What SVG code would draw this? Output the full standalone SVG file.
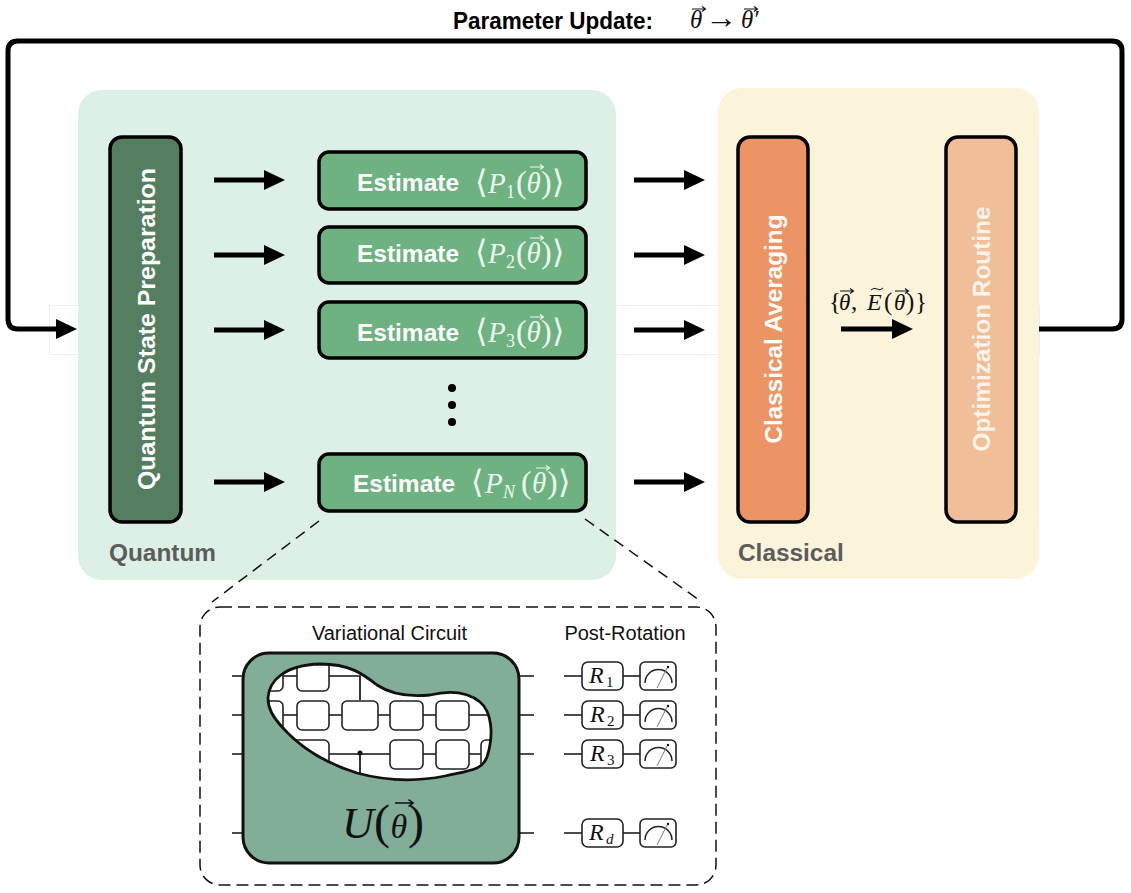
<svg xmlns="http://www.w3.org/2000/svg" width="1131" height="893" viewBox="0 0 1131 893">
<style>
.box{stroke:#000;stroke-width:3.500}
.lab{font-family:"Liberation Sans",Arial,sans-serif;font-weight:700;fill:#fff;font-size:24.500px}
.sec{font-family:"Liberation Sans",Arial,sans-serif;font-weight:700;fill:#5c5c5c;font-size:24.400px}
.cap{font-family:"Liberation Sans",Arial,sans-serif;fill:#111;font-size:20px;text-anchor:middle}
.m{font-family:"Liberation Serif","DejaVu Serif",serif;font-size:32px;fill:#eef8f0}
.mi{font-style:italic;font-size:29px}
.ms{font-size:18px}
.k{font-family:"Liberation Serif","DejaVu Serif",serif;fill:#111}
.w{stroke:#111;stroke-width:1.700;fill:none}
.g{fill:#fff;stroke:#222;stroke-width:1.600}
.a{stroke:#000;stroke-width:5;fill:none}
</style>
<defs>
<marker id="ah" markerUnits="userSpaceOnUse" markerWidth="22" markerHeight="22" refX="3" refY="10" orient="auto"><path d="M0 0L21 10L0 20Z" fill="#000"/></marker>
<g id="vec"><path d="M0 0H13M10 -2.500L13.500 0L10 2.500" fill="none" stroke="currentColor" stroke-width="1.100"/></g>
<g id="meter"><rect class="g" x="0" y="0" width="36" height="28" rx="5"/><path d="M5 21A13.500 13.500 0 0 1 32 21" fill="none" stroke="#222" stroke-width="1.500"/><path d="M17 26L27 6" stroke="#777" stroke-width="1"/><circle cx="28" cy="5" r="1.200" fill="#111"/></g>
<clipPath id="blobc"><path d="M268 698C269 681 284 665 320 664C350 664 363 674 377 685C392 695 410 697 430 695C447 691 465 690 480 702C492 712 494 735 487 757C482 770 472 770 445 776C420 781 390 782 357 773C325 763 300 747 283 728C272 716 268 708 268 698Z"/></clipPath>
</defs>
<rect x="49.500" y="305.500" width="990" height="49" fill="#fff" stroke="#eee" stroke-width="1"/>
<g id="quantum-panel"><rect x="78" y="90" width="538" height="490" rx="24" fill="#ddf0e5"/><text class="sec" x="109" y="561">Quantum</text></g>
<g id="classical-panel"><rect x="718" y="88" width="321" height="491" rx="24" fill="#fbf3da"/><text class="sec" x="738" y="561">Classical</text></g>

<g id="quantum-state-preparation"><rect class="box" x="110" y="137" width="71" height="385" rx="12" fill="#557d60"/><text class="lab" transform="translate(155 329) rotate(-90)" text-anchor="middle" textLength="322" lengthAdjust="spacingAndGlyphs">Quantum State Preparation</text></g>

<g id="estimate-1" color="#eef8f0"><rect class="box" x="319" y="152" width="267" height="57" rx="10" fill="#6db280"/><text class="lab" x="357" y="191" textLength="102" lengthAdjust="spacingAndGlyphs">Estimate</text><text class="m" x="475" y="193">⟨<tspan class="mi" x="488">P</tspan><tspan class="ms" x="506" y="198">1</tspan><tspan x="516" y="193">(</tspan><tspan class="mi" x="526.500">θ</tspan><tspan x="541">)</tspan><tspan x="552">⟩</tspan></text><use href="#vec" x="530" y="167"/></g>
<g id="estimate-2" color="#eef8f0"><rect class="box" x="319" y="227" width="267" height="56" rx="10" fill="#6db280"/><text class="lab" x="357" y="262" textLength="102" lengthAdjust="spacingAndGlyphs">Estimate</text><text class="m" x="475" y="263">⟨<tspan class="mi" x="488">P</tspan><tspan class="ms" x="506" y="268">2</tspan><tspan x="516" y="263">(</tspan><tspan class="mi" x="526.500">θ</tspan><tspan x="541">)</tspan><tspan x="552">⟩</tspan></text><use href="#vec" x="530" y="238"/></g>
<g id="estimate-3" color="#eef8f0"><rect class="box" x="319" y="302" width="267" height="56" rx="10" fill="#6db280"/><text class="lab" x="357" y="341" textLength="102" lengthAdjust="spacingAndGlyphs">Estimate</text><text class="m" x="475" y="342">⟨<tspan class="mi" x="488">P</tspan><tspan class="ms" x="506" y="347">3</tspan><tspan x="516" y="342">(</tspan><tspan class="mi" x="526.500">θ</tspan><tspan x="541">)</tspan><tspan x="552">⟩</tspan></text><use href="#vec" x="530" y="317"/></g>
<g id="estimate-n" color="#eef8f0"><rect class="box" x="319" y="454" width="267" height="57" rx="10" fill="#6db280"/><text class="lab" x="353" y="492" textLength="102" lengthAdjust="spacingAndGlyphs">Estimate</text><text class="m" x="471" y="493">⟨<tspan class="mi" x="485">P</tspan><tspan class="ms" font-style="italic" x="503" y="498">N</tspan><tspan x="521" y="493">(</tspan><tspan class="mi" x="532">θ</tspan><tspan x="547">)</tspan><tspan x="558">⟩</tspan></text><use href="#vec" x="536" y="468"/></g>
<g id="ellipsis"><circle cx="452" cy="388" r="4"/><circle cx="452" cy="405" r="4"/><circle cx="452" cy="422" r="4"/></g>

<g id="classical-averaging"><rect class="box" x="738" y="137" width="70" height="385" rx="12" fill="#ec9463"/><text class="lab" transform="translate(782 329) rotate(-90)" text-anchor="middle" textLength="229" lengthAdjust="spacingAndGlyphs">Classical Averaging</text></g>
<g id="optimization-routine"><rect class="box" x="946" y="137" width="70" height="385" rx="12" fill="#f0bf97"/><text class="lab" transform="translate(990 329) rotate(-90)" text-anchor="middle" textLength="245" lengthAdjust="spacingAndGlyphs" style="fill:#fdf3ea">Optimization Routine</text></g>

<g id="connectors">
<path class="a" d="M214 180H267" marker-end="url(#ah)"/><path class="a" d="M214 255H267" marker-end="url(#ah)"/><path class="a" d="M214 330H267" marker-end="url(#ah)"/><path class="a" d="M214 482H267" marker-end="url(#ah)"/>
<path class="a" d="M634 180H687" marker-end="url(#ah)"/><path class="a" d="M634 255H687" marker-end="url(#ah)"/><path class="a" d="M634 330H687" marker-end="url(#ah)"/><path class="a" d="M634 482H687" marker-end="url(#ah)"/>
<path class="a" d="M841 329H895" marker-end="url(#ah)"/>
<path class="a" d="M1039 329H1112Q1122 329 1122 319V51Q1122 41 1112 41H18Q8 41 8 51V319Q8 329 18 329H59" marker-end="url(#ah)"/>
<path d="M319 521L212 602M585 519L702 602" stroke="#111" stroke-width="1.500" stroke-dasharray="11 7" fill="none"/>
</g>

<g id="parameter-update" color="#111"><text class="lab" x="453" y="29" style="fill:#000" textLength="200" lengthAdjust="spacingAndGlyphs">Parameter Update:</text><text class="k" font-size="25" y="28"><tspan class="mi" style="font-size:25px" x="690">θ</tspan><tspan x="705" style="font-size:32px">→</tspan><tspan class="mi" style="font-size:25px" x="741">θ</tspan><tspan x="754.500">′</tspan></text><use href="#vec" x="692" y="9"/><use href="#vec" x="744" y="9"/></g>

<g id="expectation-label" color="#111"><text class="k" font-size="25" y="310"><tspan x="829">{</tspan><tspan class="mi" style="font-size:23px" x="839">θ</tspan><tspan x="851">,</tspan><tspan class="mi" style="font-size:24px" x="867">E</tspan><tspan x="884">(</tspan><tspan class="mi" style="font-size:23px" x="894">θ</tspan><tspan x="906">)</tspan><tspan x="915">}</tspan></text><use href="#vec" x="840" y="291"/><use href="#vec" x="895" y="291"/><path d="M871 290Q874 287 877 289T883 288" fill="none" stroke="#111" stroke-width="1"/></g>

<g id="zoom-box"><rect x="200" y="607" width="516" height="278" rx="20" fill="none" stroke="#111" stroke-width="1.500" stroke-dasharray="12 6"/></g>
<g id="variational-circuit" color="#111">
<text class="cap" x="389.500" y="640">Variational Circuit</text>
<path class="w" d="M232 676H243M232 715H243M232 754H243M232 833H243M519 676H534M519 715H534M519 754H534M519 833H534"/>
<rect x="243" y="653" width="276" height="210" rx="26" fill="#82ad98" stroke="#111" stroke-width="3"/>
<path d="M268 698C269 681 284 665 320 664C350 664 363 674 377 685C392 695 410 697 430 695C447 691 465 690 480 702C492 712 494 735 487 757C482 770 472 770 445 776C420 781 390 782 357 773C325 763 300 747 283 728C272 716 268 708 268 698Z" fill="#fff"/>
<g clip-path="url(#blobc)">
<path class="w" d="M260 676H360V700M260 715H500M260 754H500M360 754V785"/>
<rect class="g" x="250" y="650" width="33" height="41" rx="5"/><rect class="g" x="297" y="650" width="32" height="41" rx="5"/>
<rect class="g" x="250" y="701" width="33" height="29" rx="5"/><rect class="g" x="297" y="701" width="32" height="29" rx="5"/><rect class="g" x="342" y="701" width="36" height="29" rx="5"/><rect class="g" x="390" y="701" width="33" height="29" rx="5"/><rect class="g" x="436" y="701" width="33" height="29" rx="5"/>
<rect class="g" x="280" y="740" width="49" height="40" rx="5"/><rect class="g" x="390" y="740" width="33" height="29" rx="5"/><rect class="g" x="436" y="740" width="33" height="29" rx="5"/><rect class="g" x="481" y="740" width="33" height="29" rx="5"/>
<circle cx="360" cy="753" r="2.500" fill="#111"/>
</g>
<path d="M268 698C269 681 284 665 320 664C350 664 363 674 377 685C392 695 410 697 430 695C447 691 465 690 480 702C492 712 494 735 487 757C482 770 472 770 445 776C420 781 390 782 357 773C325 763 300 747 283 728C272 716 268 708 268 698Z" fill="none" stroke="#111" stroke-width="2.800"/>
<text class="k" font-size="46" y="838"><tspan x="342" font-style="italic" font-size="44">U</tspan><tspan x="374" font-size="48">(</tspan><tspan x="390.500" font-style="italic" font-size="34">θ</tspan><tspan x="408" font-size="48">)</tspan></text><use href="#vec" transform="translate(395 803) scale(1.350)"/>
</g>
<g id="post-rotation" color="#111">
<text class="cap" x="625" y="640">Post-Rotation</text>
<path class="w" d="M564 676H582M623 676H640M564 715H582M623 715H640M564 754H582M623 754H640M564 833H582M623 833H640"/>
<g id="r1"><rect class="g" x="582" y="662" width="41" height="28" rx="6"/><text class="k" font-style="italic" font-size="24" x="589" y="683">R</text><text class="k" font-size="15" x="606" y="687">1</text><use href="#meter" x="640" y="662"/></g>
<g id="r2"><rect class="g" x="582" y="701" width="41" height="28" rx="6"/><text class="k" font-style="italic" font-size="24" x="590" y="722">R</text><text class="k" font-size="15" x="607" y="726">2</text><use href="#meter" x="640" y="701"/></g>
<g id="r3"><rect class="g" x="582" y="740" width="41" height="28" rx="6"/><text class="k" font-style="italic" font-size="24" x="590" y="761">R</text><text class="k" font-size="15" x="607" y="765">3</text><use href="#meter" x="640" y="740"/></g>
<g id="rd"><rect class="g" x="582" y="819" width="41" height="28" rx="6"/><text class="k" font-style="italic" font-size="24" x="589" y="840">R</text><text class="k" font-style="italic" font-size="15" x="606" y="844">d</text><use href="#meter" x="640" y="819"/></g>
</g>
</svg>
